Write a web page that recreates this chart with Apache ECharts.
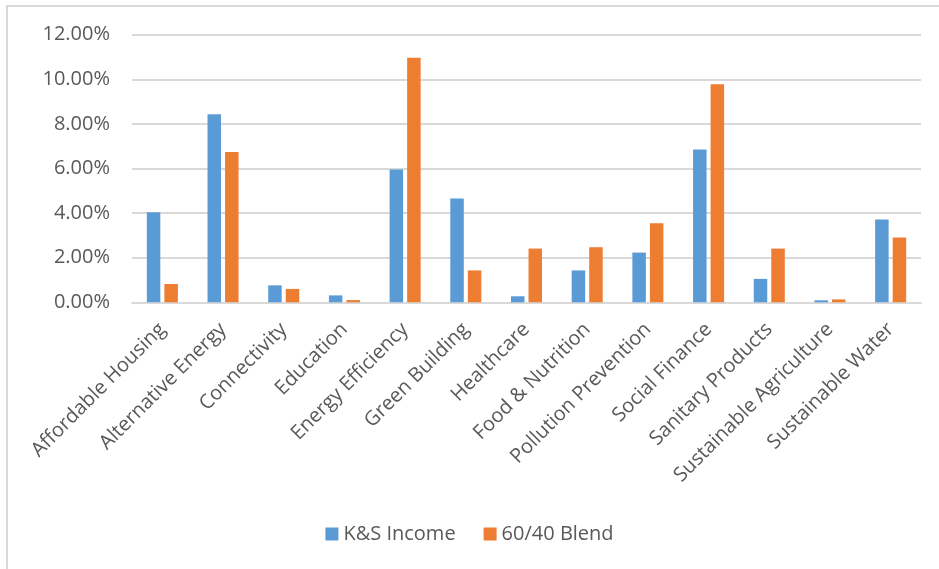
<!DOCTYPE html>
<html>
<head>
<meta charset="utf-8">
<script src="https://cdn.jsdelivr.net/npm/echarts@6/dist/echarts.min.js"></script>
<style>html,body{margin:0;padding:0;background:#fff;}#c{width:939px;height:569px;}</style>
</head>
<body>
<div id="c"></div>
<script>
const categories = ["Affordable Housing","Alternative Energy","Connectivity","Education","Energy Efficiency","Green Building","Healthcare","Food & Nutrition","Pollution Prevention","Social Finance","Sanitary Products","Sustainable Agriculture","Sustainable Water"];
const ksIncome = [4.04, 8.43, 0.76, 0.31, 5.95, 4.65, 0.27, 1.43, 2.23, 6.85, 1.05, 0.09, 3.71];
const blend6040 = [0.82, 6.74, 0.60, 0.10, 10.97, 1.43, 2.41, 2.47, 3.54, 9.78, 2.41, 0.13, 2.91];
const seriesNames = ["K&S Income", "60/40 Blend"];

const chart = echarts.init(document.getElementById('c'), null, {renderer:'canvas'});
const font = 'Open Sans';
chart.setOption({
  animation:false,
  backgroundColor:'#fff',
  graphic:[
    {type:'line', shape:{x1:7,y1:6,x2:7,y2:569}, style:{stroke:'#d9d9d9',lineWidth:2}},
    {type:'line', shape:{x1:6,y1:6,x2:939,y2:6}, style:{stroke:'#d9d9d9',lineWidth:2}}
  ],
  grid:{left:132, right:18, top:34.7, bottom:266.7, containLabel:false},
  legend:{
    data:seriesNames, bottom:20, left:'center', itemWidth:13, itemHeight:13, itemGap:28,
    icon:'rect',
    textStyle:{color:'#595959', fontSize:20, fontFamily:font}
  },
  xAxis:{
    type:'category', data:categories,
    axisLine:{lineStyle:{color:'#d9d9d9', width:2}},
    axisTick:{show:false},
    axisLabel:{rotate:45, interval:0, color:'#595959', fontSize:20, fontFamily:font, margin:24}
  },
  yAxis:{
    type:'value', min:0, max:12, interval:2,
    axisLine:{show:false}, axisTick:{show:false},
    splitLine:{lineStyle:{color:'#d9d9d9', width:2}},
    axisLabel:{formatter:v=>v.toFixed(2)+'%', color:'#595959', fontSize:20, fontFamily:font, margin:22}
  },
  series:[
    {name:seriesNames[0], type:'bar', data:ksIncome, barWidth:13.5, barGap:'30%', itemStyle:{color:'#5B9BD5'}},
    {name:seriesNames[1], type:'bar', data:blend6040, barWidth:13.5, barGap:'30%', itemStyle:{color:'#ED7D31'}}
  ]
});
</script>
</body>
</html>
